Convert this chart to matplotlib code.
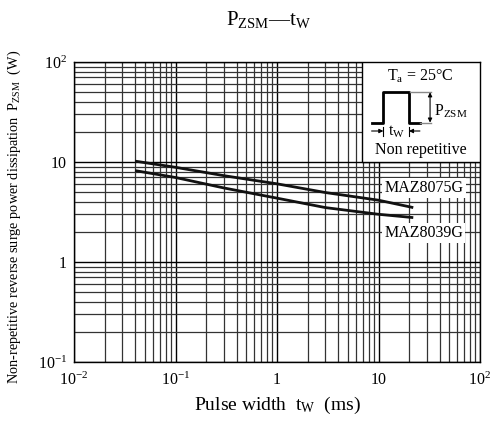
# P_ZSM vs t_W chart
import matplotlib
matplotlib.use('Agg')
import matplotlib.pyplot as plt
from matplotlib.ticker import LogLocator, FixedLocator, FixedFormatter, NullFormatter

plt.rcParams['font.family'] = ['Liberation Serif', 'DejaVu Serif']
plt.rcParams['mathtext.fontset'] = 'custom'
plt.rcParams['mathtext.rm'] = 'Liberation Serif'
plt.rcParams['mathtext.it'] = 'Liberation Serif:italic'

# data (pulse width in ms, power in W)
tw = [0.04, 0.1, 0.3, 1, 3, 10, 22]
p_maz8075g = [10.2, 8.85, 7.3, 6.05, 4.95, 4.15, 3.5]
p_maz8039g = [8.2, 7.0, 5.5, 4.35, 3.5, 3.0, 2.78]

xticks = [1e-2, 1e-1, 1, 10, 1e2]
xlabels = [r'$10^{-2}$', r'$10^{-1}$', '1', '10', r'$10^{2}$']
yticks = [1e-1, 1, 10, 1e2]
ylabels = [r'$10^{-1}$', '1', '10', r'$10^{2}$']

fig = plt.figure(figsize=(4.91, 4.25), dpi=100)
ax = fig.add_axes([74/491, 63/425, 406/491, 300/425])

ax.plot(tw, p_maz8075g, color='#111', lw=2.0, solid_capstyle='butt', zorder=3)
ax.plot(tw, p_maz8039g, color='#111', lw=2.0, solid_capstyle='butt', zorder=3)

ax.set_xscale('log')
ax.set_yscale('log')
ax.set_xlim(1e-2, 1e2)
ax.set_ylim(1e-1, 1e2)

ax.xaxis.set_major_locator(FixedLocator(xticks))
ax.xaxis.set_major_formatter(FixedFormatter(xlabels))
ax.yaxis.set_major_locator(FixedLocator(yticks))
ax.yaxis.set_major_formatter(FixedFormatter(ylabels))
ax.xaxis.set_minor_locator(LogLocator(base=10, subs=range(2, 10)))
ax.yaxis.set_minor_locator(LogLocator(base=10, subs=range(2, 10)))
ax.xaxis.set_minor_formatter(NullFormatter())
ax.yaxis.set_minor_formatter(NullFormatter())
ax.tick_params(which='both', length=0)
ax.tick_params(axis='both', labelsize=11.5)
ax.tick_params(axis='x', pad=7)
ax.tick_params(axis='y', pad=5)

ax.grid(which='major', color='black', lw=1.0)
ax.grid(which='minor', color='#333333', lw=0.9)
for s in ax.spines.values():
    s.set_color('black')
    s.set_linewidth(1.0)

# curve labels
ax.text(0.862, 0.58, 'MAZ8075G', transform=ax.transAxes, ha='center', va='center',
        fontsize=11.5, bbox=dict(facecolor='white', edgecolor='none', pad=1.5), zorder=4)
ax.text(0.862, 0.43, 'MAZ8039G', transform=ax.transAxes, ha='center', va='center',
        fontsize=11.5, bbox=dict(facecolor='white', edgecolor='none', pad=1.5), zorder=4)

# condition box at upper right
tr = ax.transAxes
ax.add_patch(plt.Rectangle((0.709, 0.667), 0.291, 0.333, transform=tr,
                           facecolor='white', edgecolor='black', lw=1.0, zorder=5))
ax.text(0.852, 0.953, r'T$_{\mathrm{a}}$ = 25°C', transform=tr, ha='center', va='center',
        fontsize=11.5, zorder=6)
# pulse shape
ax.plot([0.733, 0.762, 0.762, 0.825, 0.825, 0.852], [0.798, 0.798, 0.899, 0.899, 0.798, 0.798],
        transform=tr, color='black', lw=2.0, zorder=6, clip_on=False)
ax.plot([0.827, 0.88], [0.899, 0.899], transform=tr, color='#888', lw=1.0, zorder=6)
ax.plot([0.852, 0.88], [0.798, 0.798], transform=tr, color='#888', lw=1.0, zorder=6)
ax.annotate('', xy=(0.877, 0.899), xytext=(0.877, 0.798), xycoords=tr, textcoords=tr,
            arrowprops=dict(arrowstyle='<|-|>', color='black', lw=0.8,
                            mutation_scale=6, shrinkA=0, shrinkB=0), zorder=6)
ax.text(0.886, 0.836, r'P$_{\mathrm{ZSM}}$', transform=tr, ha='left', va='center',
        fontsize=11.5, zorder=6)
# t_W arrows
ax.annotate('', xy=(0.762, 0.77), xytext=(0.733, 0.77), xycoords=tr, textcoords=tr,
            arrowprops=dict(arrowstyle='-|>', color='black', lw=0.8,
                            mutation_scale=6, shrinkA=0, shrinkB=0), zorder=6)
ax.annotate('', xy=(0.825, 0.77), xytext=(0.852, 0.77), xycoords=tr, textcoords=tr,
            arrowprops=dict(arrowstyle='-|>', color='black', lw=0.8,
                            mutation_scale=6, shrinkA=0, shrinkB=0), zorder=6)
ax.plot([0.762, 0.762], [0.755, 0.785], transform=tr, color='black', lw=0.8, zorder=6)
ax.plot([0.825, 0.825], [0.755, 0.785], transform=tr, color='black', lw=0.8, zorder=6)
ax.text(0.7935, 0.768, r't$_{\mathrm{W}}$', transform=tr, ha='center', va='center',
        fontsize=11.5, zorder=6)
ax.text(0.855, 0.707, 'Non repetitive', transform=tr, ha='center', va='center',
        fontsize=11.5, zorder=6)

# titles and axis labels
fig.text(0.546, 0.953, r'P$_{\mathrm{ZSM}}$—t$_{\mathrm{W}}$', ha='center', va='center',
         fontsize=15)
fig.text(0.565, 0.047, r'Pulse width  t$_{\mathrm{W}}$  (ms)', ha='center', va='center',
         fontsize=14)
fig.text(0.029, 0.49, r'Non-repetitive reverse surge power dissipation  P$_{\mathrm{ZSM}}$  (W)',
         rotation=90, ha='center', va='center', fontsize=10.3)

fig.savefig('out.png', dpi=100)
